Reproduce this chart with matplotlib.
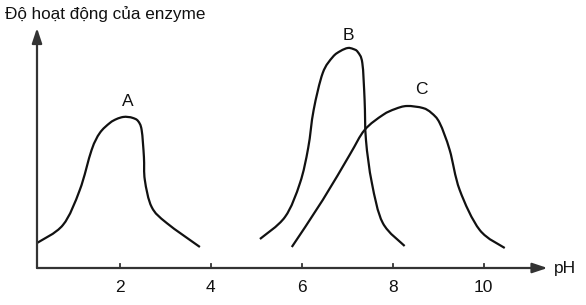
import matplotlib.pyplot as plt
from matplotlib.path import Path
from matplotlib.patches import PathPatch

plt.rcParams['font.family'] = ['Liberation Sans', 'DejaVu Sans']

# enzyme A, B, C : pH vs activity (arbitrary units)
ph_a = [0.18, 0.75, 1.12, 1.38, 1.56, 1.78, 1.93, 2.07, 2.18, 2.29, 2.40, 2.48, 2.53, 2.55, 2.70, 3.03, 3.76]
act_a = [25, 43, 78, 118, 135, 145, 149, 151, 151, 150, 147, 138, 111, 88, 61, 45, 21]

ph_b = [5.08, 5.63, 5.96, 6.14, 6.26, 6.46, 6.68, 6.85, 7.01, 7.13, 7.23, 7.33, 7.38, 7.41, 7.54, 7.78, 8.26]
act_b = [29, 51, 85, 120, 158, 195, 211, 217, 220, 219, 216, 205, 168, 128, 85, 45, 22]

ph_c = [5.78, 6.46, 7.05, 7.38, 7.78, 8.05, 8.31, 8.66, 8.85, 9.03, 9.25, 9.47, 9.91, 10.46]
act_c = [21, 68, 113, 138, 153, 159, 162, 160, 155, 145, 118, 78, 38, 20]

labels = ['A', 'B', 'C']
label_pos = [(2.17, 166), (7.03, 233), (8.62, 179)]

ticks = [2, 4, 6, 8, 10]
tick_labels = ['2', '4', '6', '8', '10']


def smooth_path(xs, ys):
    # Catmull-Rom through the read points, as cubic Bezier segments
    pts = list(zip(xs, ys))
    pts = [pts[0]] + pts + [pts[-1]]
    verts = [pts[1]]
    codes = [Path.MOVETO]
    for i in range(1, len(pts) - 2):
        p0, p1, p2, p3 = pts[i - 1], pts[i], pts[i + 1], pts[i + 2]
        c1 = (p1[0] + (p2[0] - p0[0]) / 6, p1[1] + (p2[1] - p0[1]) / 6)
        c2 = (p2[0] - (p3[0] - p1[0]) / 6, p2[1] - (p3[1] - p1[1]) / 6)
        verts += [c1, c2, p2]
        codes += [Path.CURVE4] * 3
    return Path(verts, codes)


fig = plt.figure(figsize=(5.86, 3.05), dpi=100)
W, H = 586, 305
ax = fig.add_axes([37 / W, (H - 268) / H, (560 - 37) / W, (268 - 25) / H])
x0, x1 = 0.18, 0.18 + (560 - 37) / 45.5
ax.set_xlim(x0, x1)
ax.set_ylim(0, 243)
ax.axis('off')

col = '#111111'
for xs, ys in [(ph_a, act_a), (ph_b, act_b), (ph_c, act_c)]:
    ax.add_patch(PathPatch(smooth_path(xs, ys), facecolor='none', edgecolor=col, lw=1.6,
                           capstyle='butt', joinstyle='round'))

for lab, (lx, ly) in zip(labels, label_pos):
    ax.text(lx, ly, lab, fontsize=12.5, ha='center', va='center', color=col)

axcol = '#333333'
ax.annotate('', xy=(11.4, 0), xytext=(x0, 0),
            arrowprops=dict(arrowstyle='-|>,head_length=0.9,head_width=0.3', color=axcol, lw=1.6,
                            shrinkA=0, shrinkB=0))
ax.annotate('', xy=(x0, 240), xytext=(x0, 0),
            arrowprops=dict(arrowstyle='-|>,head_length=0.9,head_width=0.3', color=axcol, lw=1.6,
                            shrinkA=0, shrinkB=0))
for t, tl in zip(ticks, tick_labels):
    ax.plot([t, t], [-4, 4], color=axcol, lw=1.3)
    ax.text(t, -19, tl, fontsize=12.5, ha='center', va='center', color=col)

ax.text(11.55, 0, 'pH', fontsize=12.5, ha='left', va='center', color=col)
fig.text(5 / W, 1 - 14 / H, 'Độ hoạt động của enzyme', fontsize=12.3, ha='left', va='center', color=col)

fig.savefig('out.png', dpi=100)
